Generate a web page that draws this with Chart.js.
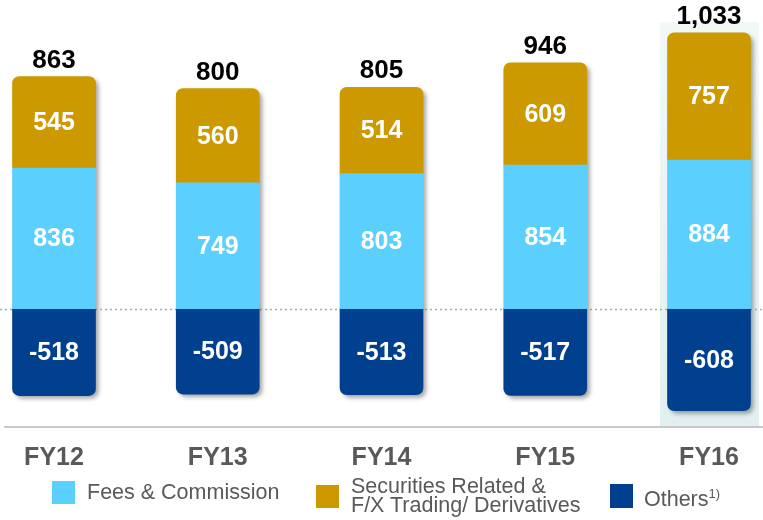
<!DOCTYPE html>
<html>
<head>
<meta charset="utf-8">
<script src="https://cdn.jsdelivr.net/npm/chart.js@4.4.1/dist/chart.umd.min.js"></script>
<style>
  body { margin: 0; background: #fff; }
  #wrap { position: relative; width: 763px; height: 520px; }
  .legend { position: absolute; font-family: "Liberation Sans", Arial, sans-serif; font-size: 21.5px; color: #595959; white-space: nowrap; }
  .sw { position: absolute; width: 23px; height: 23px; }
  sup { font-size: 13px; vertical-align: 8px; line-height: 0; }
</style>
</head>
<body>
<div id="wrap">
  <canvas id="chart" width="763" height="520"></canvas>
  <div class="sw" style="left:52px; top:481px; background:#5bd0ff;"></div>
  <div class="legend" style="left:87px; top:480px; line-height:24px;">Fees &amp; Commission</div>
  <div class="sw" style="left:316px; top:485px; background:#cc9900;"></div>
  <div class="legend" style="left:351px; top:477px; line-height:19px;">Securities Related &amp;<br>F/X Trading/ Derivatives</div>
  <div class="sw" style="left:610px; top:484px; height:24px; background:#00408f;"></div>
  <div class="legend" style="left:644px; top:487px; line-height:24px;">Others<sup>1)</sup></div>
</div>
<script>
// Data
const categories = ["FY12", "FY13", "FY14", "FY15", "FY16"];
const feesCommission = [836, 749, 803, 854, 884];
const securitiesFx = [545, 560, 514, 609, 757];
const others = [-518, -509, -513, -517, -608];
const totals = [863, 800, 805, 946, 1033];

const colors = {
  fees: "#5bd0ff",
  securities: "#cc9900",
  others: "#00408f"
};

const fontFamily = '"Liberation Sans", Arial, sans-serif';

// Light panel behind the latest year, zero dotted line, axis line and bar shadows
const backdropPlugin = {
  id: "backdrop",
  beforeDatasetsDraw(chart) {
    const { ctx, chartArea, scales } = chart;
    const x = scales.x, y = scales.y;
    const bottom = chartArea.bottom;
    ctx.save();

    // highlight panel for FY16
    const cx = x.getPixelForValue(categories.length - 1);
    const grad = ctx.createLinearGradient(0, 22, 0, bottom);
    grad.addColorStop(0, "rgba(242,248,248,1)");
    grad.addColorStop(1, "rgba(226,239,240,1)");
    ctx.fillStyle = grad;
    ctx.fillRect(cx - 49, 22, 99, bottom - 22);

    // dotted zero line across the full width
    const y0 = Math.round(y.getPixelForValue(0)) + 0.5;
    ctx.strokeStyle = "#aaaaaa";
    ctx.lineWidth = 1.5;
    ctx.setLineDash([2, 3]);
    ctx.beginPath();
    ctx.moveTo(0, y0);
    ctx.lineTo(chart.width, y0);
    ctx.stroke();
    ctx.setLineDash([]);

    // soft shadow behind each stacked column
    const metas = chart.getSortedVisibleDatasetMetas();
    categories.forEach((c, i) => {
      let top = Infinity, bot = -Infinity, left = 0, w = 0;
      metas.forEach(m => {
        const el = m.data[i];
        top = Math.min(top, el.y, el.base);
        bot = Math.max(bot, el.y, el.base);
        left = el.x - el.width / 2;
        w = el.width;
      });
      ctx.save();
      ctx.filter = "blur(2px)";
      ctx.fillStyle = "rgba(90,90,90,0.55)";
      ctx.beginPath();
      ctx.roundRect(left + 3, top + 3, w, bot - top, 7);
      ctx.fill();
      ctx.restore();
    });

    // axis line
    ctx.strokeStyle = "#c8c8c8";
    ctx.lineWidth = 2;
    ctx.beginPath();
    ctx.moveTo(4, bottom);
    ctx.lineTo(chart.width, bottom);
    ctx.stroke();
    ctx.restore();
  }
};

// Value labels inside the segments and totals on top
const labelPlugin = {
  id: "labels",
  afterDatasetsDraw(chart) {
    const { ctx } = chart;
    ctx.save();
    ctx.textAlign = "center";
    ctx.textBaseline = "middle";
    ctx.font = "bold 25px " + fontFamily;
    ctx.fillStyle = "#ffffff";
    chart.getSortedVisibleDatasetMetas().forEach(meta => {
      const ds = chart.data.datasets[meta.index];
      meta.data.forEach((el, i) => {
        ctx.fillText(ds.data[i].toLocaleString("en-US"), el.x, (el.y + el.base) / 2 + 1);
      });
    });

    ctx.font = "bold 26px " + fontFamily;
    ctx.fillStyle = "#000000";
    ctx.textBaseline = "alphabetic";
    const secMeta = chart.getDatasetMeta(1);
    secMeta.data.forEach((el, i) => {
      ctx.fillText(totals[i].toLocaleString("en-US"), el.x, el.y - 9);
    });
    ctx.restore();
  }
};

const ctx = document.getElementById("chart").getContext("2d");

new Chart(ctx, {
  type: "bar",
  data: {
    labels: categories,
    datasets: [
      { label: "Fees & Commission", data: feesCommission, backgroundColor: colors.fees },
      { label: "Securities Related & F/X Trading/ Derivatives", data: securitiesFx, backgroundColor: colors.securities, borderRadius: 7 },
      { label: "Others", data: others, backgroundColor: colors.others, borderRadius: 7 }
    ]
  },
  options: {
    responsive: false,
    animation: false,
    layout: { padding: { left: 54, right: 54, top: 10, bottom: 0 } },
    datasets: { bar: { barThickness: 83, clip: false, borderSkipped: "start" } },
    plugins: {
      legend: { display: false },
      tooltip: { enabled: false }
    },
    scales: {
      x: {
        stacked: true,
        offset: false,
        grid: { display: false },
        border: { display: false },
        ticks: {
          color: "#595959",
          font: { family: fontFamily, size: 25, weight: "bold" },
          padding: 8
        },
        afterFit: (scale) => { scale.height = 93; }
      },
      y: {
        stacked: true,
        display: false,
        min: -705,
        max: 1777
      }
    }
  },
  plugins: [backdropPlugin, labelPlugin]
});
</script>
</body>
</html>
